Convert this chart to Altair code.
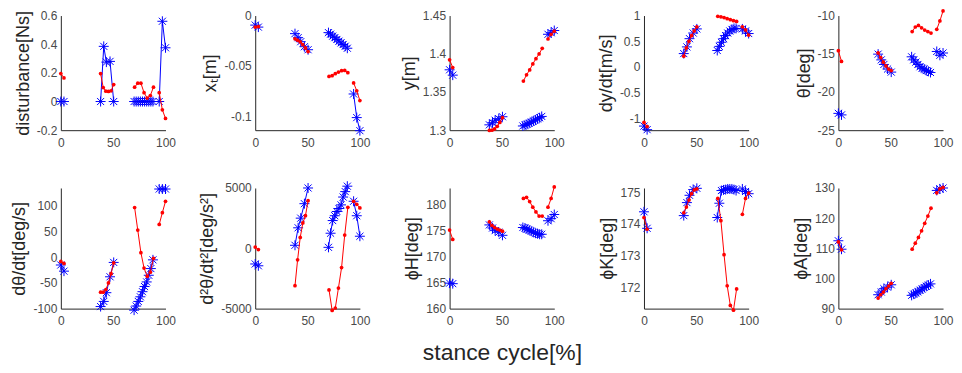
import altair as alt
import pandas as pd

X_BLUE = [[0, 3], [38, 41, 43.5, 47, 50.5],
          [70, 72, 74, 76, 78, 80, 82, 84, 86, 88], [94, 97, 100]]
X_RED = [[0, 3], [38, 40.5, 43, 45.5, 48, 50.5],
         [70.5, 73.5, 76.5, 79.5, 82.5, 85.5, 88.5], [94, 97, 100]]

TITLES = ["disturbance[Ns]", "xₜ[m]", "y[m]", "dy/dt[m/s]", "θ[deg]",
          "dθ/dt[deg/s]", "d²θ/dt²[deg/s²]", "ϕH[deg]", "ϕK[deg]", "ϕA[deg]"]
DOMAINS = [[-0.2, 0.6], [-0.114, 0], [1.3, 1.45], [-1.23, 1], [-25, -10],
           [-100, 135], [-5000, 5000], [160, 183.2], [171.33, 175.13], [90, 130]]
YTICKS = [[-0.2, 0, 0.2, 0.4, 0.6], [-0.1, -0.05, 0], [1.3, 1.35, 1.4, 1.45],
          [-1, -0.5, 0, 0.5, 1], [-25, -20, -15, -10],
          [-100, -50, 0, 50, 100], [-5000, 0, 5000], [160, 165, 170, 175, 180],
          [172, 173, 174, 175], [90, 100, 110, 120, 130]]
XTICKS = [0, 50, 100]

DIST_BLUE = [[0, 0], [0, 0.385, 0.275, 0.28, 0],
             [0, 0, 0, 0, 0, 0, 0, 0, 0, 0], [0, 0.56, 0.375]]
DIST_RED = [[0.195, 0.165], [0.195, 0.097, 0.072, 0.07, 0.075, 0.118],
            [0.1, 0.128, 0.128, 0.062, 0.024, 0.042, 0.1], [0.062, -0.058, -0.118]]
XT_BLUE = [[-0.0095, -0.0115], [-0.018, -0.022, -0.026, -0.031, -0.034],
           [-0.017, -0.0185, -0.0205, -0.022, -0.0238, -0.0255, -0.0272, -0.0288, -0.0305, -0.0325],
           [-0.078, -0.1015, -0.1145]]
XT_RED = [[-0.0115, -0.011], [-0.0232, -0.0245, -0.0262, -0.029, -0.0322, -0.0358],
          [-0.0605, -0.0598, -0.0578, -0.0562, -0.0548, -0.0546, -0.0568],
          [-0.067, -0.0748, -0.0845]]
Y_BLUE = [[1.379, 1.372], [1.307, 1.3098, 1.313, 1.315, 1.3176],
          [1.3055, 1.3065, 1.3078, 1.309, 1.3105, 1.312, 1.3133, 1.3148, 1.3163, 1.318],
          [1.4255, 1.4275, 1.4304]]
Y_RED = [[1.392, 1.382], [1.2996, 1.3, 1.3016, 1.305, 1.3102, 1.3163],
         [1.3642, 1.3724, 1.3789, 1.3867, 1.3936, 1.3997, 1.4071],
         [1.4193, 1.4255, 1.4296]]
DY_BLUE = [[-1.15, -1.22], [0.26, 0.39, 0.55, 0.66, 0.74],
           [0.32, 0.4, 0.48, 0.55, 0.61, 0.66, 0.7, 0.73, 0.75, 0.75],
           [0.74, 0.7, 0.65]]
DY_RED = [[-1.08, -1.16], [0.21, 0.37, 0.5, 0.61, 0.7, 0.78],
          [0.985, 0.975, 0.96, 0.94, 0.92, 0.9, 0.885], [0.78, 0.72, 0.62]]
TH_BLUE = [[-22.8, -23.0], [-15.05, -15.8, -16.4, -17.0, -17.4],
           [-15.4, -15.8, -16.1, -16.4, -16.7, -16.9, -17.0, -17.2, -17.3, -17.45],
           [-14.7, -15.2, -14.9]]
TH_RED = [[-14.6, -16.0], [-14.9, -15.5, -16.1, -16.6, -17.0, -17.2],
          [-12.1, -11.5, -11.3, -11.6, -11.9, -12.1, -12.3], [-11.8, -10.7, -9.4]]
DTH_BLUE = [[-15, -27], [-96, -86, -69, -38, -10],
            [-103, -95, -86, -77, -67, -57, -48, -35, -22, -5], [133, 133, 133]]
DTH_RED = [[-8, -12], [-68, -68, -63, -50, -32, -11],
           [97, 53, 9, -21, -37, -29, -2], [64, 87, 109]]
DDTH_BLUE = [[-1300, -1450], [250, 1700, 2500, 3700, 5000],
             [80, 1250, 2300, 2700, 3050, 3300, 3600, 4250, 4700, 5150],
             [3900, 2700, 1000]]
DDTH_RED = [[100, -100], [-3100, -950, 900, 2100, 2700, 3950],
            [-3450, -5150, -4950, -3300, -1600, 1100, 3400], [3900, 3650, 3350]]
PH_BLUE = [[164.9, 164.8], [176.1, 175.5, 175.0, 174.7, 174.1],
           [175.6, 175.5, 175.3, 175.1, 174.9, 174.7, 174.5, 174.4, 174.3, 174.3],
           [176.9, 177.3, 178.1]]
PH_RED = [[175.1, 173.3], [176.7, 176.0, 175.6, 175.3, 175.1, 174.9],
          [181.2, 181.4, 180.6, 179.5, 178.6, 177.8, 177.8], [179.5, 181.2, 183.4]]
PK_BLUE = [[174.38, 173.86], [174.26, 174.67, 174.9, 175.08, 175.12],
           [174.2, 174.65, 175.05, 175.07, 175.08, 175.1, 175.1, 175.1, 175.08, 175.05],
           [175.1, 175.02, 174.95]]
PK_RED = [[174.2, 173.83], [174.35, 174.53, 174.75, 174.95, 175.07, 175.1],
          [174.8, 174.1, 173.03, 172.05, 171.43, 171.28, 171.95], [174.3, 174.8, 174.97]]
PA_BLUE = [[112.5, 109.7], [94.6, 95.5, 96.6, 97.1, 97.9],
           [94.4, 94.8, 95.2, 95.6, 96.1, 96.5, 97.0, 97.4, 97.8, 98.2],
           [129.2, 129.7, 130.0]]
PA_RED = [[112.1, 109.5], [93.5, 94.6, 95.5, 96.6, 97.5, 98.4],
          [109.7, 111.7, 113.6, 115.8, 118.3, 120.7, 123.3], [128.4, 129.7, 130.2]]

BLUE = [DIST_BLUE, XT_BLUE, Y_BLUE, DY_BLUE, TH_BLUE,
        DTH_BLUE, DDTH_BLUE, PH_BLUE, PK_BLUE, PA_BLUE]
RED = [DIST_RED, XT_RED, Y_RED, DY_RED, TH_RED,
       DTH_RED, DDTH_RED, PH_RED, PK_RED, PA_RED]

XLABEL = "stance cycle[%]"
STAR = "M-1,0L1,0M0,-1L0,1M-0.71,-0.71L0.71,0.71M-0.71,0.71L0.71,-0.71"
FONT = "Liberation Sans"
TXT = "#4a4a4a"
AX = "#262626"
W = 105


def make_panel(i):
    h = 115 if i < 5 else 121
    rows = []
    for name, data, xsets in (("blue", BLUE[i], X_BLUE), ("red", RED[i], X_RED)):
        for seg, (xs, ys) in enumerate(zip(xsets, data)):
            for x, y in zip(xs, ys):
                rows.append({"s": name, "seg": seg, "x": x, "y": y})
    df = pd.DataFrame(rows)
    xaxis = alt.Axis(values=XTICKS, title=XLABEL if i == 7 else None,
                     domain=True, domainColor=AX, domainWidth=1, offset=0,
                     labelFlush=False, labelOverlap=False,
                     titleFontSize=23, titlePadding=15, titleFont=FONT,
                     titleFontWeight="normal", titleColor=AX)
    yaxis = alt.Axis(values=YTICKS[i], title=TITLES[i],
                     domain=True, domainColor=AX, domainWidth=1, offset=0,
                     labelFlush=False, labelOverlap=False,
                     labelExpr="'' + datum.value")
    base = alt.Chart(df).encode(
        x=alt.X("x:Q", scale=alt.Scale(domain=[0, 100], nice=False, padding=0), axis=xaxis),
        y=alt.Y("y:Q", scale=alt.Scale(domain=DOMAINS[i], nice=False, zero=False, padding=0), axis=yaxis),
        detail="seg:N",
    )
    blue = base.transform_filter(alt.datum.s == "blue")
    red = base.transform_filter(alt.datum.s == "red")
    layer = alt.layer(
        blue.mark_line(color="#0000ff", strokeWidth=1),
        blue.mark_point(shape=STAR, size=100, filled=False, color="#0000ff", strokeWidth=1, opacity=1),
        red.mark_line(color="#ff0000", strokeWidth=1),
        red.mark_point(shape="circle", size=14, filled=True, color="#ff0000", opacity=1),
    ).properties(width=W, height=h)
    return layer


panels = [make_panel(i) for i in range(10)]

chart = alt.concat(*panels, columns=5, spacing={"row": 58, "column": 90},
                   bounds="flush").properties(
    padding={"left": 2, "top": 0, "right": 0, "bottom": 0}
).configure_view(stroke=None).configure_axis(
    grid=False, ticks=False,
    labelFont=FONT, labelFontSize=12, labelColor=TXT,
    titleFont=FONT, titleFontSize=18, titleFontWeight="normal", titleColor=AX,
).configure_axisX(labelPadding=7).configure_axisY(labelPadding=4, titlePadding=4)

chart.save("out.html", embed_options={"renderer": "svg", "actions": False})
